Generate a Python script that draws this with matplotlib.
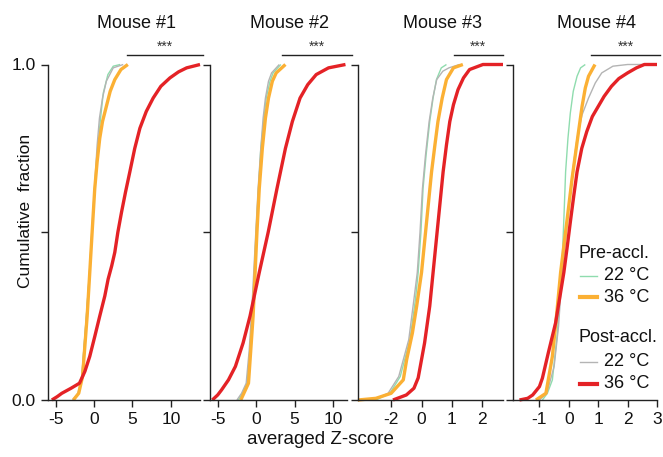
import matplotlib
matplotlib.use("Agg")
import matplotlib.pyplot as plt
import numpy as np

plt.rcParams['font.family'] = ['Liberation Sans', 'DejaVu Sans']

OUTPUT_FILE = "out.png"

# x positions, paired with cumulative fraction levels
# Mouse #1
m1_pre22_x = [-2.7, -2.0, -1.6, -1.0, -0.6, -0.2, 0.1, 0.5, 0.8, 1.2, 1.8, 2.5, 3.4]
m1_pre22_y = [0.0, 0.02, 0.07, 0.25, 0.38, 0.52, 0.63, 0.75, 0.83, 0.915, 0.97, 0.995, 1.0]
m1_pre36_x = [-2.7, -2.0, -1.5, -0.9, -0.56, -0.2, 0.09, 0.4, 0.74, 1.1, 1.6, 2.1, 2.7, 3.5, 4.4]
m1_pre36_y = [0.0, 0.02, 0.07, 0.25, 0.38, 0.52, 0.63, 0.71, 0.78, 0.83, 0.875, 0.92, 0.955, 0.985, 1.0]
m1_post22_x = [-2.8, -2.1, -1.6, -1.0, -0.6, -0.25, 0.05, 0.4, 0.7, 1.1, 1.6, 2.5, 3.8]
m1_post22_y = [0.0, 0.02, 0.07, 0.25, 0.38, 0.52, 0.63, 0.76, 0.84, 0.90, 0.95, 0.99, 1.0]
m1_post36_x = [-5.5, -4.8, -4.2, -3.0, -1.9, -1.2, -0.56, 0.1, 0.74, 1.4, 1.83, 2.3, 2.7,
               3.1, 3.58, 4.1, 4.66, 5.3, 5.97, 6.8, 7.7, 8.7, 9.88, 11.0, 12.06, 13.8]
m1_post36_y = [0.0, 0.01, 0.02, 0.035, 0.05, 0.085, 0.13, 0.19, 0.25, 0.31, 0.36, 0.40, 0.44,
               0.50, 0.56, 0.62, 0.68, 0.75, 0.81, 0.86, 0.90, 0.935, 0.96, 0.978, 0.99, 1.0]

# Mouse #2
m2_pre22_x = [-2.3, -1.8, -1.2, -0.8, -0.4, 0.0, 0.3, 0.6, 1.0, 1.3, 1.8, 2.2, 3.2]
m2_pre22_y = [0.0, 0.02, 0.05, 0.15, 0.30, 0.50, 0.63, 0.75, 0.84, 0.90, 0.95, 0.975, 1.0]
m2_pre36_x = [-2.0, -1.6, -1.0, -0.7, -0.4, 0.1, 0.4, 0.8, 1.2, 1.6, 2.1, 2.6, 3.8]
m2_pre36_y = [0.0, 0.02, 0.05, 0.15, 0.25, 0.50, 0.63, 0.75, 0.84, 0.90, 0.95, 0.975, 1.0]
m2_post22_x = [-2.5, -1.9, -1.3, -0.9, -0.5, -0.05, 0.25, 0.6, 0.9, 1.2, 1.6, 2.0, 3.0]
m2_post22_y = [0.0, 0.02, 0.05, 0.15, 0.30, 0.50, 0.63, 0.75, 0.84, 0.90, 0.95, 0.975, 1.0]
m2_post36_x = [-5.7, -5.0, -4.5, -3.6, -2.7, -1.7, -0.8, 0.4, 1.56, 2.7, 3.8, 4.7, 5.7,
               6.7, 7.8, 9.4, 11.6]
m2_post36_y = [0.0, 0.015, 0.03, 0.06, 0.10, 0.17, 0.25, 0.38, 0.50, 0.63, 0.75, 0.83, 0.90,
               0.94, 0.97, 0.99, 1.0]

# Mouse #3
m3_pre22_x = [-1.5, -1.04, -0.7, -0.38, -0.2, -0.11, -0.02, 0.05, 0.15, 0.27, 0.38, 0.49, 0.65, 0.82]
m3_pre22_y = [0.0, 0.02, 0.07, 0.18, 0.30, 0.38, 0.50, 0.63, 0.73, 0.83, 0.90, 0.955, 0.99, 1.0]
m3_pre36_x = [-2.09, -1.5, -1.0, -0.6, -0.49, -0.3, -0.16, 0.0, 0.11, 0.22, 0.33, 0.44, 0.54,
              0.68, 0.82, 1.05, 1.36]
m3_pre36_y = [0.0, 0.005, 0.02, 0.06, 0.12, 0.20, 0.28, 0.38, 0.48, 0.58, 0.68, 0.76, 0.83,
              0.90, 0.955, 0.99, 1.0]
m3_post22_x = [-1.6, -1.1, -0.75, -0.42, -0.25, -0.14, -0.05, 0.03, 0.13, 0.25, 0.37, 0.5,
               0.7, 0.9, 1.25]
m3_post22_y = [0.0, 0.02, 0.07, 0.18, 0.30, 0.38, 0.50, 0.63, 0.73, 0.83, 0.90, 0.955,
               0.98, 0.99, 1.0]
m3_post36_x = [-0.94, -0.5, -0.25, -0.11, 0.1, 0.27, 0.38, 0.49, 0.6, 0.71, 0.82, 0.93, 1.05,
               1.2, 1.38, 1.58, 2.02, 2.68]
m3_post36_y = [0.0, 0.015, 0.035, 0.066, 0.17, 0.28, 0.38, 0.48, 0.58, 0.68, 0.76, 0.83, 0.88,
               0.925, 0.96, 0.985, 1.0, 1.0]

# Mouse #4
m4_pre22_x = [-0.9, -0.73, -0.56, -0.39, -0.3, -0.22, -0.16, -0.11, -0.03, 0.05, 0.15, 0.28, 0.4, 0.56]
m4_pre22_y = [0.0, 0.02, 0.06, 0.20, 0.32, 0.43, 0.56, 0.68, 0.78, 0.855, 0.92, 0.965, 0.99, 1.0]
m4_pre36_x = [-1.12, -0.78, -0.56, -0.42, -0.28, -0.14, 0.0, 0.11, 0.22, 0.33, 0.45, 0.56, 0.67, 0.89]
m4_pre36_y = [0.0, 0.02, 0.13, 0.25, 0.38, 0.48, 0.58, 0.66, 0.73, 0.80, 0.875, 0.93, 0.965, 1.0]
m4_post22_x = [-1.0, -0.75, -0.5, -0.35, -0.25, -0.12, 0.0, 0.14, 0.28, 0.45, 0.67, 0.9, 1.12,
               1.5, 2.0, 3.0]
m4_post22_y = [0.0, 0.02, 0.10, 0.22, 0.35, 0.47, 0.58, 0.69, 0.78, 0.85, 0.90, 0.945, 0.975,
               0.995, 1.0, 1.0]
m4_post36_x = [-1.68, -1.4, -1.23, -1.0, -0.9, -0.7, -0.45, -0.3, -0.17, -0.05, 0.05, 0.17, 0.28,
               0.44, 0.61, 0.8, 1.0, 1.2, 1.45, 1.7, 2.0, 2.3, 2.57, 3.0]
m4_post36_y = [0.0, 0.005, 0.015, 0.04, 0.065, 0.14, 0.23, 0.31, 0.38, 0.46, 0.53, 0.61, 0.68,
               0.75, 0.80, 0.845, 0.875, 0.905, 0.935, 0.958, 0.975, 0.99, 1.0, 1.0]

mice = ["Mouse #1", "Mouse #2", "Mouse #3", "Mouse #4"]
curves = [
    [(m1_pre22_x, m1_pre22_y), (m1_post22_x, m1_post22_y), (m1_pre36_x, m1_pre36_y), (m1_post36_x, m1_post36_y)],
    [(m2_pre22_x, m2_pre22_y), (m2_post22_x, m2_post22_y), (m2_pre36_x, m2_pre36_y), (m2_post36_x, m2_post36_y)],
    [(m3_pre22_x, m3_pre22_y), (m3_post22_x, m3_post22_y), (m3_pre36_x, m3_pre36_y), (m3_post36_x, m3_post36_y)],
    [(m4_pre22_x, m4_pre22_y), (m4_post22_x, m4_post22_y), (m4_pre36_x, m4_pre36_y), (m4_post36_x, m4_post36_y)],
]
xlims = [(-6.0, 13.8), (-6.0, 11.8), (-2.09, 2.68), (-1.9, 3.0)]
xticks = [[-5, 0, 5, 10], [-5, 0, 5, 10], [-1, 0, 1, 2], [-1, 0, 1, 2, 3]]
xticklabels = [["-5", "0", "5", "10"], ["-5", "0", "5", "10"], ["-2", "0", "1", "2"],
               ["-1", "0", "1", "2", "3"]]
sig_bars = [(4.3, 14.2), (3.4, 12.5), (1.06, 2.68), (0.75, 3.1)]

styles = [
    dict(color='#8fdcae', lw=1.0, label='22 °C'),   # pre 22
    dict(color='#b4b4b4', lw=1.0, label='22 °C'),   # post 22
    dict(color='#fbb034', lw=2.4, label='36 °C'),   # pre 36
    dict(color='#e42226', lw=2.4, label='36 °C'),   # post 36
]

fig = plt.figure(figsize=(6.63, 4.57), dpi=100)
W, H = 663.0, 457.0
panels_px = [(48, 200), (210, 347), (358, 503), (513, 657)]
y0_px, y1_px = 400.0, 64.5

axes = []
for i, (l, r) in enumerate(panels_px):
    ax = fig.add_axes([l / W, 1 - y0_px / H, (r - l) / W, (y0_px - y1_px) / H])
    axes.append(ax)
    for (xs, ys), st in zip(curves[i], styles):
        ax.plot(xs, ys, color=st['color'], lw=st['lw'], clip_on=False,
                solid_capstyle='butt', solid_joinstyle='round')
    ax.set_xlim(*xlims[i])
    ax.set_ylim(0, 1.0)
    ax.set_xticks(xticks[i])
    ax.set_xticklabels(xticklabels[i])
    ax.set_yticks([0, 0.5, 1.0])
    if i == 0:
        ax.set_yticklabels(["0.0", "", "1.0"])
    else:
        ax.set_yticklabels(["", "", ""])
    for s in ['top', 'right']:
        ax.spines[s].set_visible(False)
    for s in ['left', 'bottom']:
        ax.spines[s].set_linewidth(1.0)
        ax.spines[s].set_color('#222222')
    ax.tick_params(direction='out', length=5, width=1.0, colors='#222222',
                   labelsize=12.5, pad=4, labelcolor='#111111')

    # significance bar
    a, b = sig_bars[i]
    ax.plot([a, b], [1.028, 1.028], color='#222222', lw=1.0, clip_on=False)
    ax.text((a + b) / 2, 1.032, "***", ha='center', va='bottom', fontsize=10, color='#333333')
    # panel title
    ax.text(0.58, 1.121, mice[i], transform=ax.transAxes, ha='center', va='center',
            fontsize=13, color='#111111')

fig.text(26 / W, 1 - 211 / H, "Cumulative  fraction", rotation=90, ha='center', va='center',
         fontsize=12.5, color='#111111')
fig.text(320 / W, 1 - 439 / H, "averaged Z-score", ha='center', va='center',
         fontsize=13.5, color='#111111')

# legend in the last panel
ax = axes[3]
tr = ax.transAxes
def lx(px):
    return (px - 513) / (657 - 513)
def ly(py):
    return (400 - py) / (400 - 64.5)
ax.text(lx(579), ly(253), "Pre-accl.", transform=tr, fontsize=13, va='center', ha='left', color='#111111')
ax.text(lx(579), ly(338), "Post-accl.", transform=tr, fontsize=13, va='center', ha='left', color='#111111')
rows = [(276, styles[0]), (297, styles[2]), (362, styles[1]), (384, styles[3])]
for py, st in rows:
    ax.plot([lx(580), lx(597)], [ly(py), ly(py)], transform=tr, color=st['color'],
            lw=st['lw'] + 0.6 if st['lw'] > 2 else st['lw'], clip_on=False)
    ax.text(lx(604), ly(py), st['label'], transform=tr, fontsize=13, va='center', ha='left',
            color='#111111')

plt.savefig(OUTPUT_FILE, dpi=100)
